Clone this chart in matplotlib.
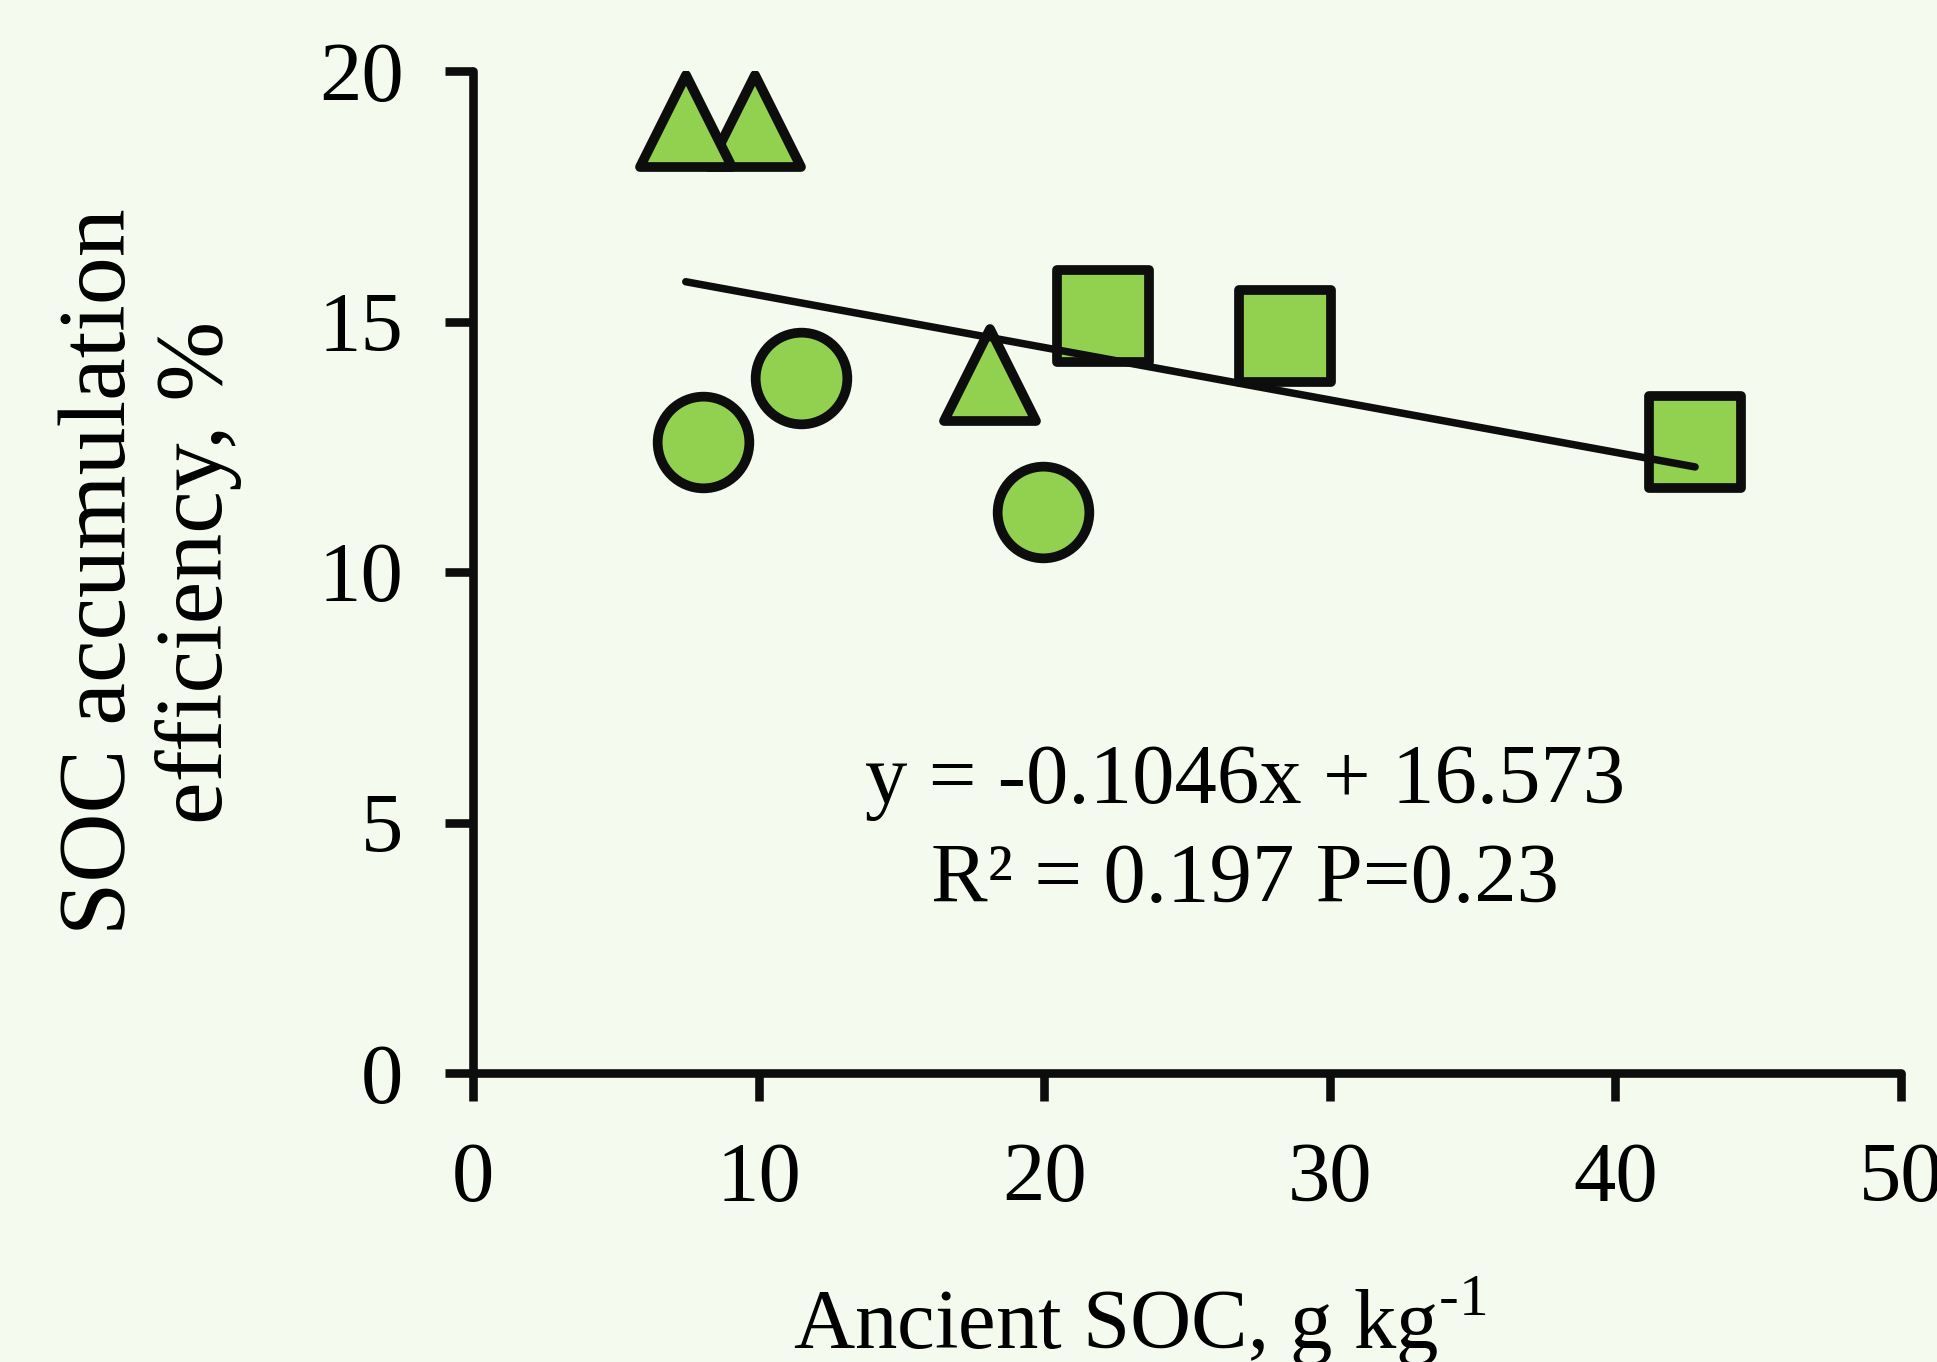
import matplotlib
matplotlib.use("Agg")
import numpy as np
import matplotlib.pyplot as plt
from matplotlib.markers import MarkerStyle

plt.rcParams['font.family'] = ['Liberation Serif', 'DejaVu Serif']
plt.rcParams['mathtext.fontset'] = 'custom'
plt.rcParams['mathtext.rm'] = 'Liberation Serif'

# data
tri_x = [9.87, 7.45, 18.09]
tri_y = [19.0, 19.0, 13.93]
circ_x = [8.05, 11.47, 19.97]
circ_y = [12.60, 13.88, 11.20]
sq_x = [22.06, 28.44, 42.79]
sq_y = [15.11, 14.71, 12.60]

slope = -0.1046
intercept = 16.573
eq_text = "y = -0.1046x + 16.573"
r2_text = "R\u00b2 = 0.197 P=0.23"

xticks = [0, 10, 20, 30, 40, 50]
yticks = [0, 5, 10, 15, 20]

bg = '#F5FAEF'
green = '#92D050'
edge = '#0D0D0D'

fig = plt.figure(figsize=(19.37, 13.62), dpi=100, facecolor=bg)
ax = fig.add_axes([473/1937, 1 - 1073/1362, (1901-473)/1937, (1073-71)/1362])
ax.set_facecolor('none')

ms = 66
mew = 7
ax.plot(circ_x, circ_y, ls='none', marker='o', ms=ms, mfc=green, mec=edge, mew=mew, zorder=3)
ax.plot(sq_x, sq_y, ls='none', marker=MarkerStyle('s', joinstyle='round'), ms=ms, mfc=green, mec=edge, mew=mew, zorder=3)
ax.plot(tri_x, tri_y, ls='none', marker=MarkerStyle('^', joinstyle='round'), ms=ms, mfc=green, mec=edge, mew=mew, zorder=3)

# trend line over the data range
all_x = np.array(tri_x + circ_x + sq_x)
lx = np.array([all_x.min(), all_x.max()])
ax.plot(lx, slope * lx + intercept, color=edge, lw=5.4, solid_capstyle='round', zorder=4)

ax.set_xlim(0, 50)
ax.set_ylim(0, 20)
ax.set_xticks(xticks)
ax.set_yticks(yticks)
ax.tick_params(axis='both', direction='out', length=20, width=6.2, color=edge,
               labelsize=61, pad=30)

for s in ['top', 'right']:
    ax.spines[s].set_visible(False)
for s in ['left', 'bottom']:
    ax.spines[s].set_linewidth(6.2)
    ax.spines[s].set_color(edge)
    ax.spines[s].set_capstyle('round')

fig.text(1245/1937, 1 - 803/1362, eq_text, ha='center', va='baseline', fontsize=61)
fig.text(1245/1937, 1 - 902/1362, r2_text, ha='center', va='baseline', fontsize=61)

fig.text(1140/1937, 1 - 1349/1362, r'Ancient SOC, g kg$^{\text{-1}}$',
         ha='center', va='baseline', fontsize=61)
fig.text(150/1937, 1 - 572/1362, "SOC accumulation\nefficiency, %", rotation=90,
         ha='center', va='center', multialignment='center', fontsize=69, linespacing=1.15)

fig.savefig('out.png', dpi=100, facecolor=bg)
